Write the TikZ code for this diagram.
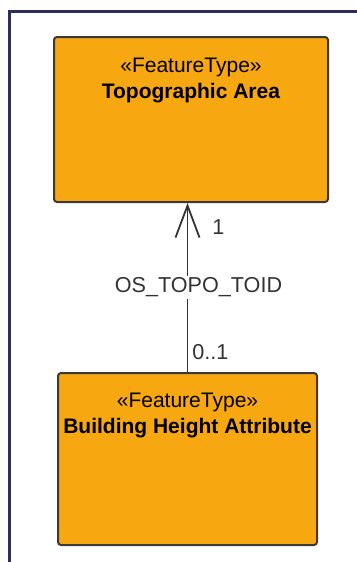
\documentclass[tikz,border=0pt]{standalone}
\usepackage{fontspec}
\setmainfont{Liberation Sans}
\usetikzlibrary{positioning, arrows.meta, calc}

\definecolor{umlorange}{HTML}{F7A70F}
\definecolor{umledge}{HTML}{3A3A3A}
\definecolor{framenavy}{HTML}{2E2E5C}
\tikzset{
    featurebox/.style={draw=umledge, fill=umlorange, line width=1pt, rounded corners=1.5pt, inner sep=0pt},
    classtext/.style={align=center, font=\fontsize{10.5}{13}\selectfont, inner sep=0pt},
    assoc/.style={draw=black!80, line width=0.9pt, -{Straight Barb[length=16pt, width=12pt, line width=0.9pt]}},
    rolelabel/.style={font=\fontsize{10.8}{13}\selectfont, text=black!80, inner sep=1pt}
}

\begin{document}
\begin{tikzpicture}[x=0.5pt, y=-0.5pt]
            \useasboundingbox (0,0) rectangle (357,562);
            % diagram frame
            \draw[framenavy, line width=1.5pt] (357,11) -- (9.5,11) -- (9.5,562);
            % classes
            \node[featurebox, minimum width=137pt, minimum height=82.5pt] (topo) at (191,119.5) {};
            \node[featurebox, minimum width=129.5pt, minimum height=86pt] (bha) at (187.5,459) {};
            \node[classtext] (topotext) at ($(topo.north)+(0,44)$) {«FeatureType»\\\textbf{Topographic Area}};
            \node[classtext] (bhatext) at ($(bha.north)+(0,43)$) {«FeatureType»\\\textbf{Building Height Attribute}};
            % association
            \draw[assoc] (bha.north) -- (bha.north |- topo.south)
                node[pos=0.5, fill=white, inner sep=3pt, xshift=5.5pt, rolelabel] (toid) {OS\_TOPO\_TOID}
                node[pos=0.86, anchor=west, xshift=11pt, rolelabel] (multtop) {1}
                node[pos=0.12, anchor=west, xshift=1pt, rolelabel] (multbot) {0..1};
\end{tikzpicture}
\end{document}
